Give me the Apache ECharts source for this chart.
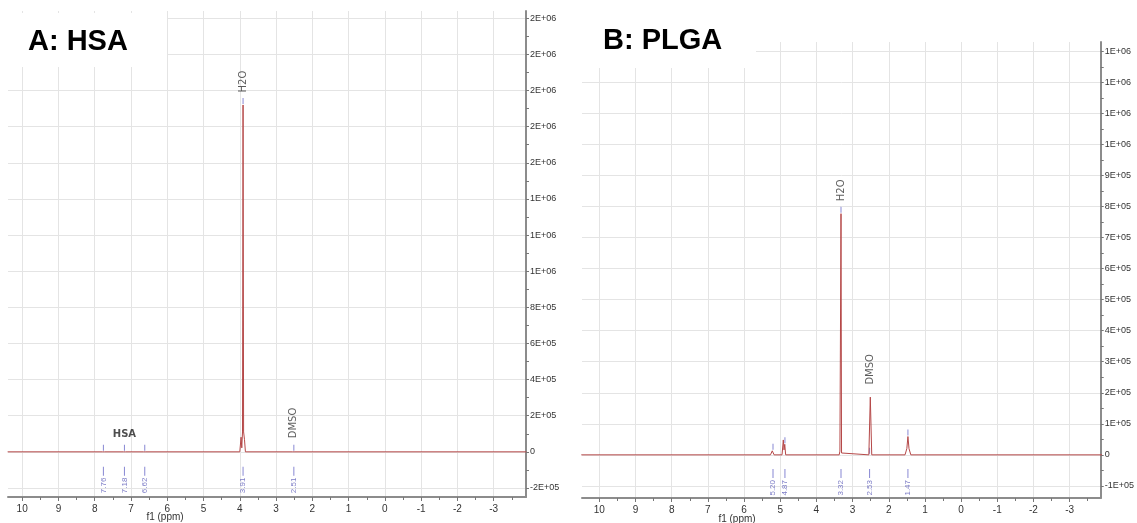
<!DOCTYPE html>
<html lang="en">
<head>
<meta charset="UTF-8">
<title>1H NMR: HSA and PLGA</title>
<script src="https://cdn.jsdelivr.net/npm/echarts@6/dist/echarts.min.js"></script>
<style>
  html, body { margin: 0; padding: 0; background: #fff; }
  #main { width: 1137px; height: 523px; }
</style>
</head>
<body>
<div id="main"></div>
<script>
// shared ppm ticks
var ppmTicks = [10, 9, 8, 7, 6, 5, 4, 3, 2, 1, 0, -1, -2, -3];

// ---- panel A: HSA ----
var yTicksA = [-200000, 0, 200000, 400000, 600000, 800000, 1000000, 1200000, 1400000, 1600000, 1800000, 2000000, 2200000, 2400000];
var specA = [
  [10.4, 0], [7.79, 0], [7.76, 4000], [7.73, 0], [7.21, 0], [7.18, 4000], [7.15, 0],
  [6.65, 0], [6.62, 4000], [6.59, 0], [4.0, 0], [3.965, 81000], [3.945, 22000],
  [3.925, 110000], [3.91, 1920000], [3.895, 110000], [3.87, 67000], [3.845, 0],
  [2.54, 0], [2.51, 6000], [2.48, 0], [-3.9, 0]
];
var pickPpmA = [7.76, 7.18, 6.62, 3.91, 2.51];
var pickTopA = [0, 0, 0, 1920000, 0];
var compNamesA = ['H2O', 'DMSO'];
var compPpmA = [3.91, 2.51];
var compTopA = [1920000, 6000];

// ---- panel B: PLGA ----
var yTicksB = [-100000, 0, 100000, 200000, 300000, 400000, 500000, 600000, 700000, 800000, 900000, 1000000, 1100000, 1200000, 1300000];
var specB = [
  [10.5, 0], [5.27, 0], [5.22, 13000], [5.17, 0], [4.95, 0], [4.915, 48000], [4.895, 16000],
  [4.875, 34000], [4.85, 0], [3.37, 0], [3.35, 12000], [3.335, 6000], [3.32, 777000],
  [3.305, 6000], [3.29, 10000], [3.27, 0], [2.55, 0], [2.51, 186000], [2.47, 0],
  [1.55, 0], [1.5, 20000], [1.47, 59000], [1.44, 20000], [1.39, 0], [-3.9, 0]
];
var pickPpmB = [5.20, 4.87, 3.32, 2.53, 1.47];
var pickTopB = [13000, 34000, 777000, 0, 59000];
var compNamesB = ['H2O', 'DMSO'];
var compPpmB = [3.32, 2.51];
var compTopB = [777000, 186000];

function sci(v) {
  if (v === 0) return '0';
  var e = Math.floor(Math.log10(Math.abs(v)) + 1e-9);
  var m = Math.round(v / Math.pow(10, e));
  return m + 'E+' + (e < 10 ? '0' : '') + e;
}

var FONT = 'Liberation Sans';
var RED = '#b54848';
var BLUE = '#6a6ac8';

function xAxisFor(g) {
  return {
    gridIndex: g, type: 'value', inverse: true,
    min: g === 0 ? -3.89 : -3.86, max: g === 0 ? 10.39 : 10.48,
    splitNumber: 14,
    axisLine: { show: true, onZero: false, lineStyle: { color: '#8c8c8c', width: 2 } },
    axisTick: { show: true, length: 4, customValues: ppmTicks, lineStyle: { color: '#777' } },
    minorTick: { show: true, splitNumber: 2, length: 3, lineStyle: { color: '#777' } },
    axisLabel: { customValues: ppmTicks, color: '#333', fontSize: 10, margin: 7, fontFamily: FONT },
    splitLine: { show: true, lineStyle: { color: '#e4e4e4', width: 1 } }
  };
}

function yAxisFor(g, ticks, mn, mx) {
  return {
    gridIndex: g, type: 'value', position: 'right',
    min: mn, max: mx, splitNumber: ticks.length,
    axisLine: { show: true, onZero: false, lineStyle: { color: '#8c8c8c', width: 2 } },
    axisTick: { show: true, length: 3, customValues: ticks, lineStyle: { color: '#777' } },
    minorTick: { show: true, splitNumber: 2, length: 3, lineStyle: { color: '#777' } },
    axisLabel: { customValues: ticks, formatter: sci, color: '#333', fontSize: 9, margin: 4, fontFamily: FONT },
    splitLine: { show: true, lineStyle: { color: '#e4e4e4', width: 1 } }
  };
}

function seriesFor(g, spec, pickPpm, pickTop, names, cPpm, cTop, shiftLevel) {
  var idx = { xAxisIndex: g, yAxisIndex: g };
  return [
    Object.assign({
      type: 'line', data: spec, showSymbol: false, silent: true,
      lineStyle: { color: RED, width: 1 }, z: 3
    }, idx),
    Object.assign({
      type: 'scatter', symbol: 'rect', symbolSize: [1, 6], symbolOffset: [0, -4],
      itemStyle: { color: BLUE }, silent: true,
      data: pickPpm.map(function (p, i) { return [p, pickTop[i]]; })
    }, idx),
    Object.assign({
      type: 'scatter', symbol: 'rect', symbolSize: [1, 9],
      itemStyle: { color: BLUE }, silent: true,
      label: {
        show: true, position: 'bottom', distance: 2, rotate: 90, align: 'right', verticalAlign: 'middle',
        fontSize: 8, color: '#5a5ab8', fontFamily: FONT,
        formatter: function (p) { return p.value[0].toFixed(2); }
      },
      data: pickPpm.map(function (p) { return [p, shiftLevel]; })
    }, idx),
    Object.assign({
      type: 'scatter', symbolSize: 1, itemStyle: { color: 'rgba(0,0,0,0)' }, silent: true,
      label: {
        show: true, position: 'top', distance: 12, rotate: 90, align: 'left', verticalAlign: 'middle',
        fontSize: 10, color: '#333', fontFamily: 'DejaVu Sans',
        formatter: function (p) { return p.name; }
      },
      data: names.map(function (n, i) { return { name: n, value: [cPpm[i], cTop[i]] }; })
    }, idx)
  ];
}

var chart = echarts.init(document.getElementById('main'));
var series = seriesFor(0, specA, pickPpmA, pickTopA, compNamesA, compPpmA, compTopA, -107000)
  .concat(seriesFor(1, specB, pickPpmB, pickTopB, compNamesB, compPpmB, compTopB, -60000));

// HSA label above the aromatic peaks
series.push({
  type: 'scatter', xAxisIndex: 0, yAxisIndex: 0, symbolSize: 1,
  itemStyle: { color: 'rgba(0,0,0,0)' }, silent: true,
  label: { show: true, position: 'top', distance: 12, fontSize: 10, fontWeight: 'bold',
    color: '#222', fontFamily: 'DejaVu Sans', formatter: '{b}' },
  data: [{ name: 'HSA', value: [7.18, 0] }]
});

chart.setOption({
  animation: false,
  backgroundColor: '#fff',
  grid: [
    { left: 8, top: 11, width: 518, height: 486 },
    { left: 582, top: 42, width: 519, height: 456 }
  ],
  xAxis: [xAxisFor(0), xAxisFor(1)],
  yAxis: [
    yAxisFor(0, yTicksA, -250000, 2440000),
    yAxisFor(1, yTicksB, -139000, 1330000)
  ],
  series: series,
  graphic: [
    { type: 'rect', left: 8, top: 13, shape: { width: 159, height: 54 }, style: { fill: '#fff' }, z: 100 },
    { type: 'text', x: 28, y: 42, z: 101,
      style: { text: 'A: HSA', font: 'bold 29px "Liberation Sans"', fill: '#000', textVerticalAlign: 'middle' } },
    { type: 'rect', left: 582, top: 40, shape: { width: 174, height: 28 }, style: { fill: '#fff' }, z: 100 },
    { type: 'text', x: 603, y: 41, z: 101,
      style: { text: 'B: PLGA', font: 'bold 29px "Liberation Sans"', fill: '#000', textVerticalAlign: 'middle' } },
    { type: 'text', x: 165, y: 517, z: 101,
      style: { text: 'f1 (ppm)', font: '10px "Liberation Sans"', fill: '#333', textAlign: 'center', textVerticalAlign: 'middle' } },
    { type: 'text', x: 737, y: 519, z: 101,
      style: { text: 'f1 (ppm)', font: '10px "Liberation Sans"', fill: '#333', textAlign: 'center', textVerticalAlign: 'middle' } }
  ]
});
</script>
</body>
</html>
